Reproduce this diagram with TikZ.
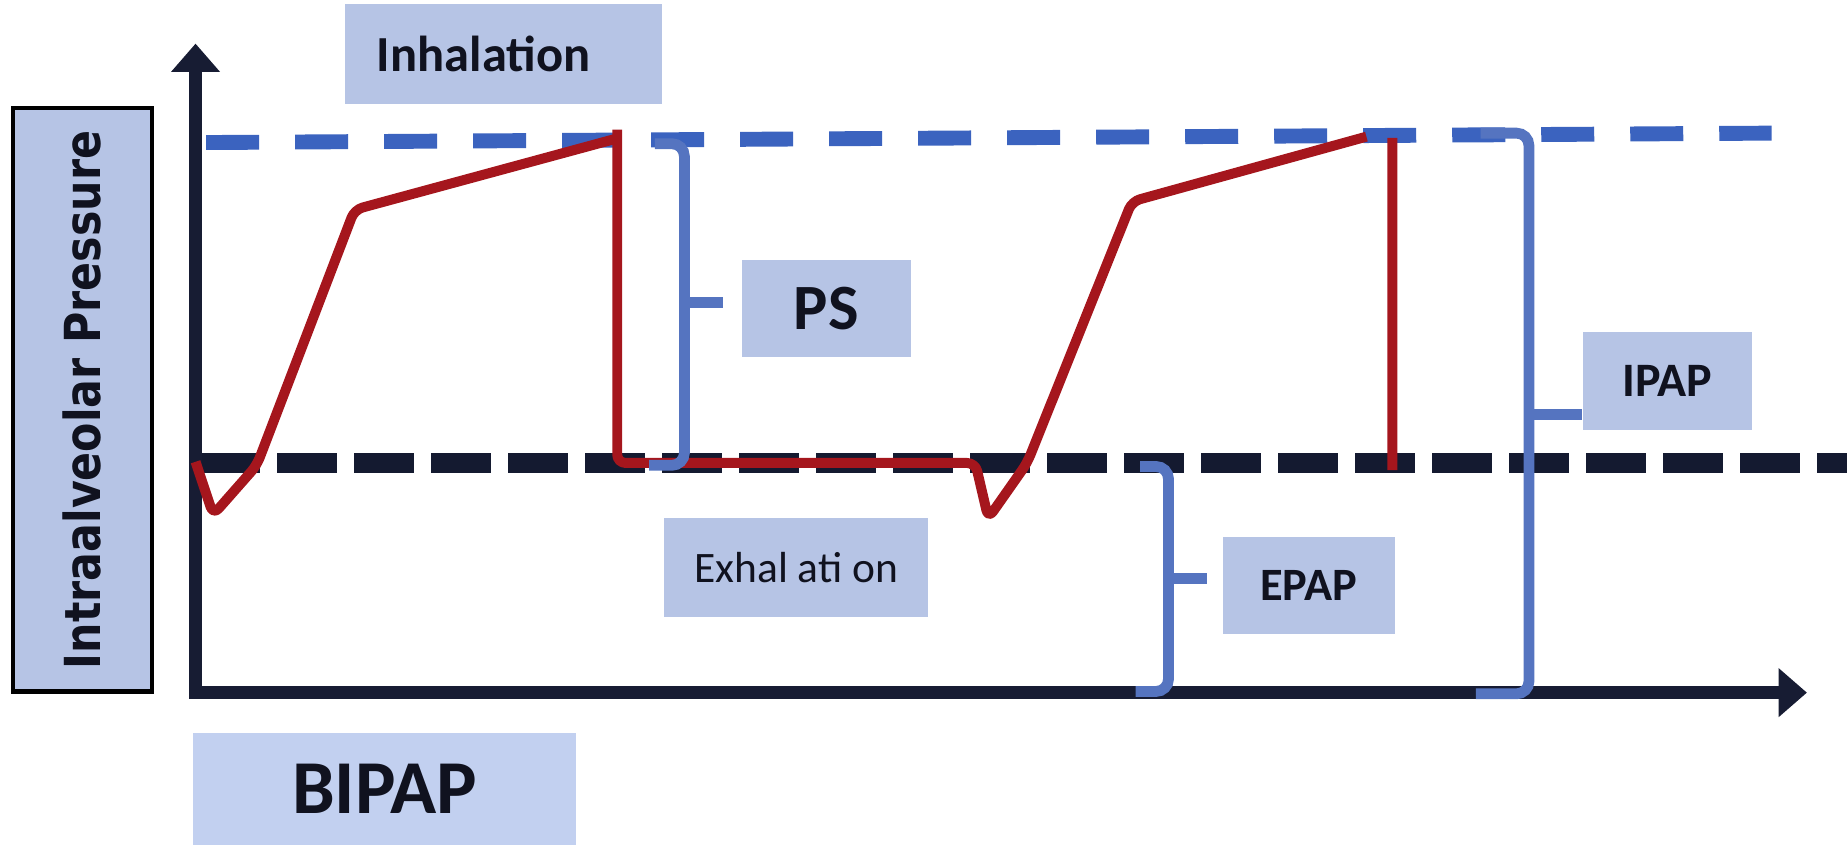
\documentclass[tikz,border=0pt]{standalone}
\usepackage{fontspec}
\usepackage{graphicx}
\setmainfont{Carlito}
\newfontfamily\axisfont{DejaVu Sans}
\usetikzlibrary{arrows.meta}

\definecolor{tagfill}{HTML}{B6C4E5}
\definecolor{tagfilllight}{HTML}{C2D0F0}
\definecolor{ink}{HTML}{10121F}
\definecolor{axisink}{HTML}{171C33}
\definecolor{ipapblue}{HTML}{3B63BF}
\definecolor{epapink}{HTML}{141A30}
\definecolor{wavered}{HTML}{A5161D}
\definecolor{braceblue}{HTML}{5574C0}

\begin{document}
\begin{tikzpicture}[
  x=0.1mm, y=-0.1mm,
  tag/.style = {fill=tagfill, inner sep=0pt, text=ink, align=center},
  axis/.style = {draw=axisink, line width=3.1pt, line join=miter,
                 {Triangle[length=2.4mm, width=4mm]}-{Triangle[length=2.4mm, width=4mm]}},
  ipap level/.style = {draw=ipapblue, line width=3.6pt, dash pattern=on 12.8pt off 8.7pt},
  epap level/.style = {draw=epapink, line width=4.8pt, dash pattern=on 14.5pt off 4.1pt},
  wave/.style = {draw=wavered, line width=2.4pt, line join=round, rounded corners=2pt},
  brace/.style = {draw=braceblue, line width=2.6pt, rounded corners=3pt}
]
  \useasboundingbox (0,0) rectangle (1568,717);

  % pressure levels
  \draw[ipap level] (175,121) -- (1504,113);
  \draw[epap level] (170,393) -- (1568,393);

  % axes
  \draw[axis] (166,37) -- (166,588) -- (1534,588);

  % pressure trace, two breaths
  \draw[wave] (166,392) -- (181,437) -- (218,395) -- (301,178) -- (522,118)
              (524,110) -- (524,393) -- (828,393) -- (839,440) -- (872,393)
              -- (961,171) -- (1160,116)
              (1182,117) -- (1182,399);

  % braces
  \draw[brace] (556,122) -- (581,122) -- (581,395) -- (551,395);
  \draw[brace] (581,257) -- ++(33,0);
  \draw[brace] (968,396) -- (992,396) -- (992,587) -- (964,587);
  \draw[brace] (992,491) -- ++(33,0);
  \draw[brace] (1257,113) -- (1298,113) -- (1298,589) -- (1253,589);
  \coordinate (ipap-mid) at (1298,352);

  % labels
  \node[tag, minimum width=2.69cm, minimum height=0.85cm, text width=2.15cm, align=left,
        font=\bfseries\fontsize{12.2}{14}\selectfont] (inhale) at (427.5,45.5) {Inhalation};
  \node[tag, minimum width=1.43cm, minimum height=0.82cm,
        font=\bfseries\fontsize{15.6}{18}\selectfont] (ps) at (701.5,262) {PS};
  \node[tag, minimum width=1.43cm, minimum height=0.83cm,
        font=\bfseries\fontsize{11.6}{14}\selectfont] (ipap) at (1415.5,323.5) {IPAP};
  \node[tag, minimum width=1.46cm, minimum height=0.82cm,
        font=\bfseries\fontsize{11.2}{14}\selectfont] (epap) at (1111,497) {EPAP};
  \node[tag, minimum width=2.24cm, minimum height=0.84cm,
        font=\fontsize{10.5}{12}\selectfont] (exhale) at (676,482) {Exhal ati on};
  \node[tag, fill=tagfilllight, minimum width=3.25cm, minimum height=0.96cm,
        font=\bfseries\fontsize{18.4}{22}\selectfont] (bipap) at (326.5,670) {BIPAP};
  \node[tag, draw=black, line width=1pt, rotate=90, minimum width=4.95cm, minimum height=1.18cm,
        font=\axisfont\bfseries\fontsize{12}{14}\selectfont] (pressure) at (70,339.5)
        {\scalebox{0.86}[1]{Intraalveolar Pressure}};

  \draw[brace] (ipap-mid) -- (ipap.west |- ipap-mid);

\end{tikzpicture}
\end{document}
